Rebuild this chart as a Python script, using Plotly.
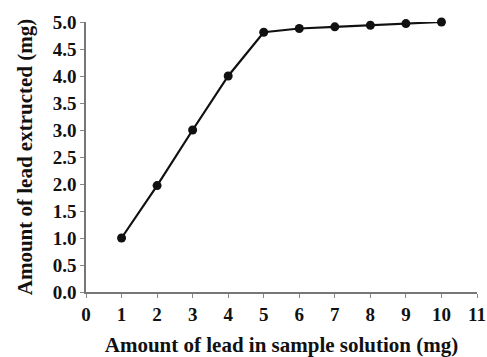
import plotly.graph_objects as go

lead_in_sample = [1, 2, 3, 4, 5, 6, 7, 8, 9, 10]
lead_extracted = [1.0, 1.97, 3.0, 4.0, 4.81, 4.88, 4.91, 4.94, 4.97, 5.0]
x_ticks = list(range(0, 12))
y_ticks = [0.0, 0.5, 1.0, 1.5, 2.0, 2.5, 3.0, 3.5, 4.0, 4.5, 5.0]

font_family = "Liberation Serif"

fig = go.Figure()
fig.add_trace(go.Scatter(
    x=lead_in_sample, y=lead_extracted,
    mode="lines+markers",
    line=dict(color="#111111", width=2.2),
    marker=dict(color="#111111", size=9, symbol="circle"),
    cliponaxis=False,
    showlegend=False,
))

fig.update_layout(
    width=487, height=357,
    margin=dict(l=86, r=10, t=22, b=65),
    paper_bgcolor="white", plot_bgcolor="white",
    font=dict(family=font_family, color="#111111"),
    xaxis=dict(
        range=[0, 11], tickvals=x_ticks, ticktext=[str(v) for v in x_ticks],
        showgrid=False, zeroline=False, automargin=False,
        showline=True, linecolor="#777777", linewidth=1.5,
        ticks="outside", ticklen=4, tickcolor="#888888",
        ticklabeloverflow="allow",
        tickfont=dict(family=font_family, size=19, color="#111111", weight="bold"),
        title=dict(text="<b>Amount of lead in sample solution (mg)</b>",
                   font=dict(family=font_family, size=21, color="#111111"), standoff=17),
    ),
    yaxis=dict(
        range=[0, 5.0], tickvals=y_ticks, ticktext=[f"{v:.1f}" for v in y_ticks],
        showgrid=False, zeroline=False, automargin=False,
        showline=True, linecolor="#777777", linewidth=1.5,
        ticks="outside", ticklen=4, tickcolor="#888888",
        ticklabeloverflow="allow",
        tickfont=dict(family=font_family, size=19, color="#111111", weight="bold"),
        title=dict(text="<b>Amount of lead extructed (mg)</b>",
                   font=dict(family=font_family, size=21, color="#111111"), standoff=14),
    ),
)

fig.write_html("out.html")
